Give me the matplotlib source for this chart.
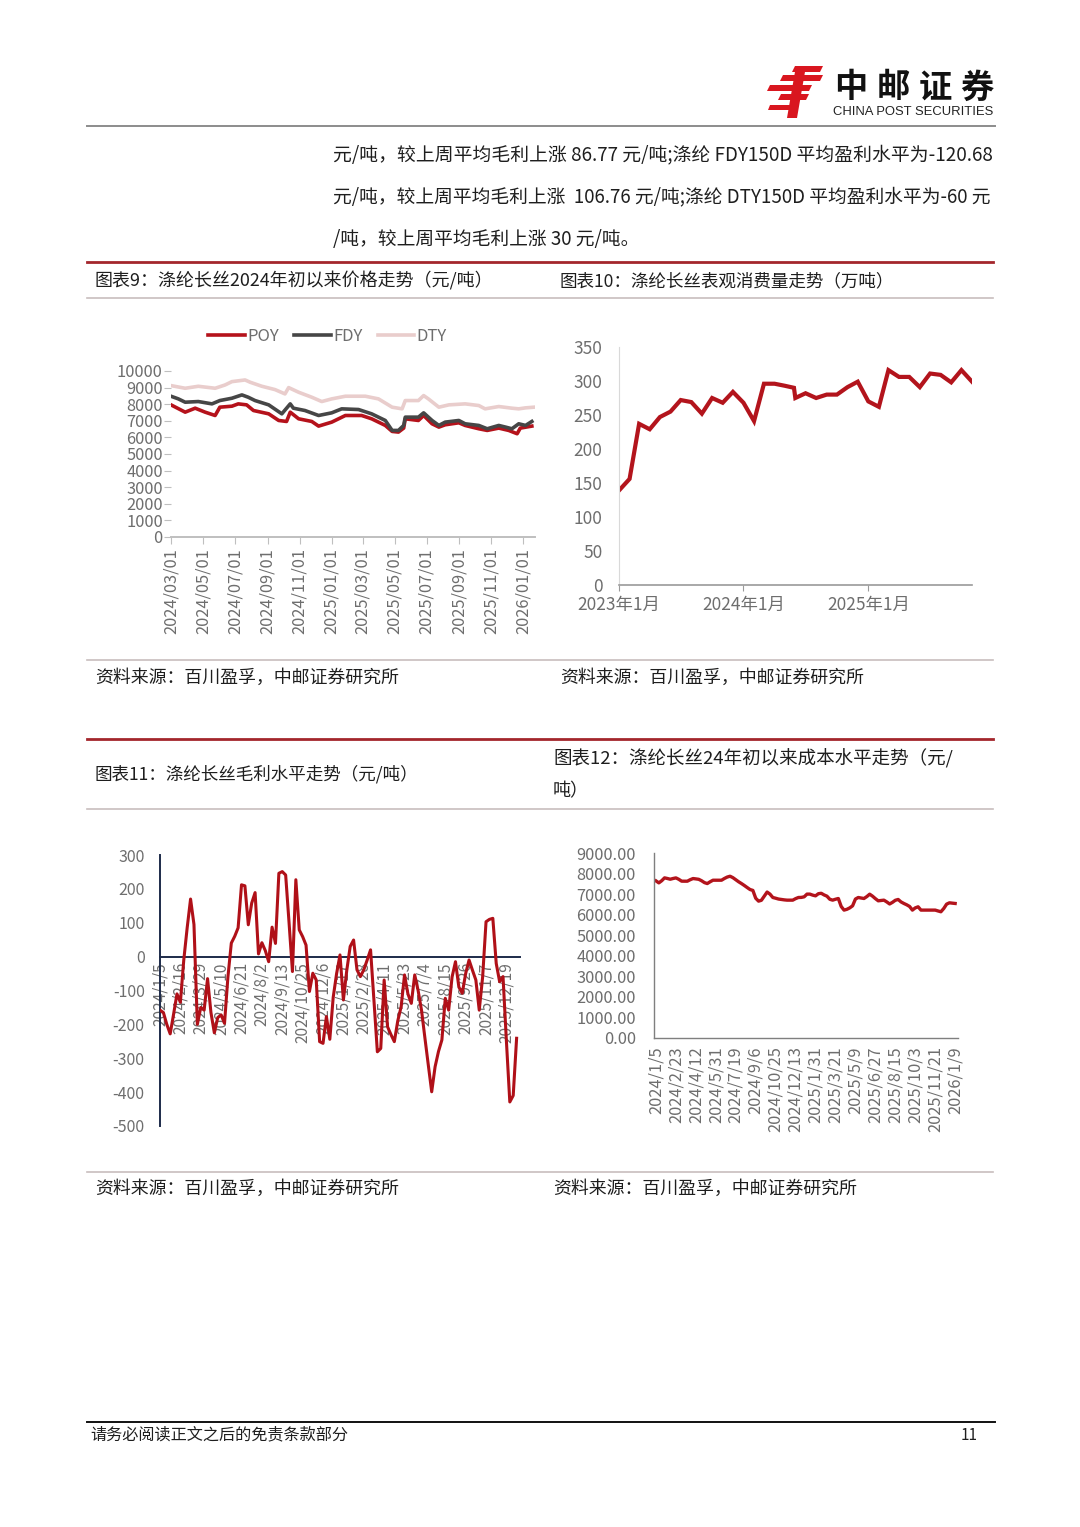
import matplotlib
matplotlib.use('Agg')
import matplotlib.pyplot as plt
import matplotlib.dates as mdates
import pandas as pd
from matplotlib.patches import Polygon

plt.rcParams['font.family'] = ['Noto Sans CJK SC', 'DejaVu Sans']
plt.rcParams['axes.unicode_minus'] = False

# ---- chart 9: price of POY / FDY / DTY (yuan/t) ----
poy_dates = ['2024-03-01', '2024-03-28', '2024-04-16', '2024-05-05', '2024-05-24', '2024-06-02',
             '2024-06-25', '2024-07-07', '2024-07-23', '2024-08-05', '2024-09-03', '2024-09-22',
             '2024-10-07', '2024-10-14', '2024-10-30', '2024-11-24', '2024-12-07', '2025-01-01',
             '2025-01-27', '2025-02-27', '2025-03-18', '2025-04-13', '2025-04-26', '2025-05-08',
             '2025-05-18', '2025-05-21', '2025-06-15', '2025-06-25', '2025-07-11', '2025-07-24',
             '2025-08-05', '2025-08-31', '2025-09-12', '2025-10-08', '2025-10-24', '2025-11-15',
             '2025-12-04', '2025-12-20', '2025-12-26', '2026-01-17']
poy = [7960, 7520, 7760, 7520, 7320, 7820, 7880, 8020, 7960, 7620, 7420, 7020,
       6960, 7520, 7120, 6960, 6680, 6920, 7320, 7320, 7120, 6720, 6360, 6320,
       6560, 7120, 7020, 7320, 6820, 6620, 6760, 6880, 6720, 6520, 6420, 6560,
       6420, 6220, 6560, 6680]
fdy_dates = ['2024-03-01', '2024-03-15', '2024-03-28', '2024-04-22', '2024-05-18', '2024-06-02',
             '2024-06-25', '2024-07-14', '2024-07-26', '2024-08-08', '2024-09-03', '2024-09-28',
             '2024-10-14', '2024-10-20', '2024-11-11', '2024-12-07', '2025-01-01', '2025-01-20',
             '2025-02-21', '2025-03-18', '2025-04-13', '2025-04-26', '2025-05-08', '2025-05-18',
             '2025-05-21', '2025-06-15', '2025-06-25', '2025-07-11', '2025-07-24', '2025-08-05',
             '2025-08-31', '2025-09-12', '2025-10-08', '2025-10-24', '2025-11-15', '2025-11-28',
             '2025-12-10', '2025-12-23', '2026-01-05', '2026-01-17']
fdy = [8480, 8320, 8120, 8160, 8020, 8220, 8360, 8560, 8420, 8220, 7960, 7420,
       8020, 7760, 7620, 7320, 7480, 7720, 7680, 7420, 7020, 6420, 6420, 6720,
       7220, 7220, 7480, 7020, 6720, 6920, 7020, 6820, 6720, 6520, 6720, 6620,
       6520, 6820, 6720, 6960]
dty_dates = ['2024-03-01', '2024-03-28', '2024-04-22', '2024-05-24', '2024-06-12', '2024-06-25',
             '2024-07-20', '2024-07-30', '2024-08-21', '2024-09-15', '2024-10-04', '2024-10-11',
             '2024-10-30', '2024-11-24', '2024-12-13', '2025-01-01', '2025-01-27', '2025-03-06',
             '2025-03-31', '2025-04-26', '2025-05-15', '2025-05-21', '2025-06-15', '2025-06-25',
             '2025-07-04', '2025-07-24', '2025-08-12', '2025-09-12', '2025-10-08', '2025-10-20',
             '2025-11-15', '2025-12-10', '2025-12-23', '2026-01-05', '2026-01-21']
dty = [9120, 8960, 9080, 8960, 9160, 9360, 9460, 9320, 9080, 8880, 8620, 9000,
       8720, 8420, 8160, 8320, 8480, 8480, 8320, 7820, 7720, 8220, 8220, 8520,
       8320, 7820, 7960, 8020, 7920, 7720, 7860, 7760, 7720, 7780, 7820]

# ---- chart 10: apparent consumption (10k t) ----
cons_dates = (list(pd.date_range('2023-01-01', '2024-05-01', freq='MS')) + [pd.Timestamp('2024-05-28')]
              + list(pd.date_range('2024-06-01', '2025-11-01', freq='MS')))
consumption = [139, 156, 237, 229, 247, 255, 272, 269, 252, 275, 268, 284,
               268, 241, 296, 296, 293, 290, 275, 282, 275, 280, 280, 291, 299,
               270, 262, 316, 306, 306, 291, 311, 309, 298, 316, 299]
cons_ticks = ['2023-01-01', '2024-01-01', '2025-01-01']
cons_labels = ['2023年1月', '2024年1月', '2025年1月']

# ---- chart 11 / 12: weekly gross margin and cost since 2024/1/5 ----
weeks = pd.date_range('2024-01-05', periods=106, freq='7D')
margin = [-158, -165, -200, -228, -170, -110, -135, -10, 85, 170, 95, -200, -150, -158, -65,
          -165, -225, -180, -172, -197, -60, 40, 60, 85, 212, 209, 94, 158, 189, 8,
          41, 18, -15, 87, 39, 246, 251, 241, 100, -44, 227, 79, 59, 34, -103,
          -49, -69, -251, -256, -177, -244, -120, -50, 5, -128, -40, 30, 49, -39, -59,
          -39, -10, 20, -130, -281, -271, -69, -207, -230, -251, -190, -148, -54, -110, -138,
          -54, -100, -158, -240, -320, -399, -325, -280, -246, -123, -158, -60, -15, -90, -108,
          -50, -10, -40, -69, -158, -60, 103, 110, 113, -20, -74, -59, -250, -429, -410,
          -241]
cost = [7644, 7547, 7650, 7790, 7760, 7724, 7760, 7789, 7720, 7630, 7628, 7628, 7700, 7757,
        7740, 7720, 7650, 7560, 7514, 7600, 7676, 7676, 7676, 7676, 7760, 7830, 7870, 7800,
        7700, 7600, 7514, 7420, 7320, 7224, 7180, 6800, 6658, 6700, 6900, 7100, 7000, 6836,
        6800, 6760, 6740, 6720, 6706, 6706, 6706, 6780, 6836, 6840, 6868, 7000, 7000, 6950,
        6916, 7020, 7040, 6960, 6900, 6750, 6706, 6750, 6787, 6400, 6222, 6260, 6330, 6430,
        6760, 6836, 6810, 6787, 6880, 6997, 6900, 6780, 6674, 6690, 6706, 6620, 6520, 6600,
        6700, 6739, 6620, 6545, 6480, 6400, 6222, 6330, 6383, 6222, 6222, 6222, 6222, 6222,
        6222, 6180, 6141, 6300, 6512, 6577, 6560, 6545]

W, H = 1080, 1527
fig = plt.figure(figsize=(W / 100, H / 100), dpi=100)
fig.patch.set_facecolor('white')
renderer = fig.canvas.get_renderer()

page = fig.add_axes([0, 0, 1, 1])
page.set_xlim(0, W)
page.set_ylim(H, 0)
page.axis('off')


def rect(x0, y0, x1, y1):
    return [x0 / W, 1 - y1 / H, (x1 - x0) / W, (y1 - y0) / H]


def fit_text(x0, x1, y, s, size):
    # scale the font so the line spans x0..x1, as the justified original does
    t = page.text(x0, y, s, fontsize=size, ha='left', va='center', color=TXT)
    w = t.get_window_extent(renderer).width
    t.set_fontsize(size * (x1 - x0) / w)
    return t.get_fontsize()


RED_RULE = '#a3262c'
GREY_RULE = '#c8bebe'
TXT = '#1e1e1e'
TICK = '#6e6e6e'

# header: logo + name
logo_red = '#d9161f'
for pts in [[(795, 66), (823, 66), (820, 72), (792, 72)],
            [(783, 75), (823, 75), (820, 81), (780, 81)],
            [(770, 85), (812, 85), (809, 91), (767, 91)],
            [(781, 94), (809, 94), (806, 100), (778, 100)],
            [(796, 66), (806, 66), (797, 118), (787, 118)],
            [(770, 105), (796, 105), (794, 110), (768, 110)]]:
    page.add_patch(Polygon(pts, closed=True, color=logo_red, lw=0))
for i, ch in enumerate('中邮证券'):
    page.text(851 + i * 42, 88, ch, fontsize=24, fontweight='bold', ha='center', va='center', color='#111111')
page.text(833, 112, 'CHINA POST SECURITIES', fontsize=9.4, family=['Liberation Sans'],
          ha='left', va='center', color='#222222')
page.plot([87, 995], [126, 126], color='#8c8c8c', lw=1.4)

# paragraph
para = ['元/吨，较上周平均毛利上涨 86.77 元/吨;涤纶 FDY150D 平均盈利水平为-120.68',
        '元/吨，较上周平均毛利上涨  106.76 元/吨;涤纶 DTY150D 平均盈利水平为-60 元',
        '/吨，较上周平均毛利上涨 30 元/吨。']
fit_text(333, 993, 155, para[0], 12.3)
fs = fit_text(333, 993, 197, para[1], 12.3)
page.text(333, 239, para[2], fontsize=fs, ha='left', va='center', color=TXT)

# section rules and titles
for y in [262, 739]:
    page.plot([87, 993], [y, y], color=RED_RULE, lw=2.0)
for y in [298, 660, 809, 1172]:
    page.plot([87, 993], [y, y], color=GREY_RULE, lw=1.2)

fit_text(95, 493, 281, '图表9：涤纶长丝2024年初以来价格走势（元/吨）', 12.5)
fit_text(560, 896, 281, '图表10：涤纶长丝表观消费量走势（万吨）', 12.5)
fit_text(95, 420, 774, '图表11：涤纶长丝毛利水平走势（元/吨）', 12.5)
fit_text(553, 953, 758, '图表12：涤纶长丝24年初以来成本水平走势（元/', 12.5)
page.text(553, 791, '吨）', fontsize=13, ha='left', va='center', color=TXT)

src = '资料来源：百川盈孚，中邮证券研究所'
for x, y in [(95, 678), (560, 678), (95, 1189), (553, 1189)]:
    fit_text(x, x + 305, y, src, 12.5)

# footer
page.plot([87, 995], [1422, 1422], color='#111111', lw=1.4)
fit_text(90, 348, 1435, '请务必阅读正文之后的免责条款部分', 11)
page.text(978, 1435, '11', fontsize=11, ha='right', va='center', color=TXT)

# ---------- chart 9 ----------
ax9 = fig.add_axes(rect(171, 371, 535, 537))
ax9.plot(pd.to_datetime(poy_dates), poy, color='#b5121b', lw=2.6, label='POY')
ax9.plot(pd.to_datetime(fdy_dates), fdy, color='#464646', lw=2.6, label='FDY')
ax9.plot(pd.to_datetime(dty_dates), dty, color='#e9cdcc', lw=2.6, label='DTY')
ax9.set_ylim(0, 10000)
ax9.set_yticks(range(0, 10001, 1000))
ax9.set_xlim(pd.Timestamp('2024-03-01'), pd.Timestamp('2026-01-23'))
ax9.set_xticks(pd.date_range('2024-03-01', '2026-01-01', freq='2MS'))
ax9.xaxis.set_major_formatter(mdates.DateFormatter('%Y/%m/%d'))
for s in ['top', 'right', 'left']:
    ax9.spines[s].set_visible(False)
ax9.spines['bottom'].set_color('#bfbfbf')
ax9.spines['bottom'].set_linewidth(1.4)
ax9.tick_params(axis='y', length=5, color='#bfbfbf', labelsize=11.8, labelcolor=TICK, pad=1)
ax9.tick_params(axis='x', length=5, color='#bfbfbf', labelsize=11.8, labelcolor=TICK,
                labelrotation=90, pad=3)
ax9.legend(loc='center', bbox_to_anchor=(0.43, 1.21), ncol=3, frameon=False, fontsize=12,
           labelcolor=TICK, handlelength=2.2, handletextpad=0.15, columnspacing=0.9)

# ---------- chart 10 ----------
ax10 = fig.add_axes(rect(619, 347, 972, 585))
ax10.plot(cons_dates, consumption, color='#b3141c', lw=3.0, solid_joinstyle='miter')
ax10.set_ylim(0, 350)
ax10.set_yticks(range(0, 351, 50))
ax10.set_xlim(pd.Timestamp('2023-01-01'), pd.Timestamp('2025-11-01'))
ax10.set_xticks(pd.to_datetime(cons_ticks))
ax10.set_xticklabels(cons_labels)
for s in ['top', 'right']:
    ax10.spines[s].set_visible(False)
ax10.spines['left'].set_color('#d9d9d9')
ax10.spines['bottom'].set_color('#9a9a9a')
ax10.spines['bottom'].set_linewidth(1.2)
ax10.tick_params(axis='y', length=0, labelsize=12.5, labelcolor=TICK, pad=12)
ax10.tick_params(axis='x', length=4, color='#9a9a9a', labelsize=12.5, labelcolor=TICK, pad=4)

# ---------- chart 11 ----------
ax11 = fig.add_axes(rect(160, 855, 520, 1126))
ax11.plot(range(len(margin)), margin, color='#b01018', lw=2.2, zorder=3)
ax11.set_ylim(-500, 300)
ax11.set_yticks(range(-500, 301, 100))
ax11.set_xlim(0, 106)
ax11.set_xticks(range(0, len(weeks), 6))
ax11.set_xticklabels([f'{d.year}/{d.month}/{d.day}' for d in weeks[::6]])
for s in ['top', 'right']:
    ax11.spines[s].set_visible(False)
ax11.spines['bottom'].set_position(('data', 0))
for s in ['left', 'bottom']:
    ax11.spines[s].set_color('#1d2b4a')
    ax11.spines[s].set_linewidth(1.4)
ax11.tick_params(axis='y', length=0, labelsize=11.5, labelcolor=TICK, pad=11)
ax11.tick_params(axis='x', length=0, labelsize=11.2, labelcolor=TICK, labelrotation=90, pad=4)

# ---------- chart 12 ----------
ax12 = fig.add_axes(rect(654, 853, 958, 1038))
ax12.plot(range(len(cost)), cost, color='#b3141c', lw=2.4)
ax12.set_ylim(0, 9000)
ax12.set_yticks(range(0, 9001, 1000))
ax12.yaxis.set_major_formatter(matplotlib.ticker.FormatStrFormatter('%.2f'))
ax12.set_xlim(-0.7, 106)
ax12.set_xticks(range(0, len(weeks), 7))
ax12.set_xticklabels([f'{d.year}/{d.month}/{d.day}' for d in weeks[::7]])
for s in ['top', 'right']:
    ax12.spines[s].set_visible(False)
for s in ['left', 'bottom']:
    ax12.spines[s].set_color('#7f7f7f')
    ax12.spines[s].set_linewidth(1.0)
ax12.tick_params(axis='y', length=0, labelsize=11.8, labelcolor=TICK, pad=13)
ax12.tick_params(axis='x', length=0, labelsize=11.8, labelcolor=TICK, labelrotation=90, pad=6)

fig.savefig('out.png', dpi=100, facecolor='white')
